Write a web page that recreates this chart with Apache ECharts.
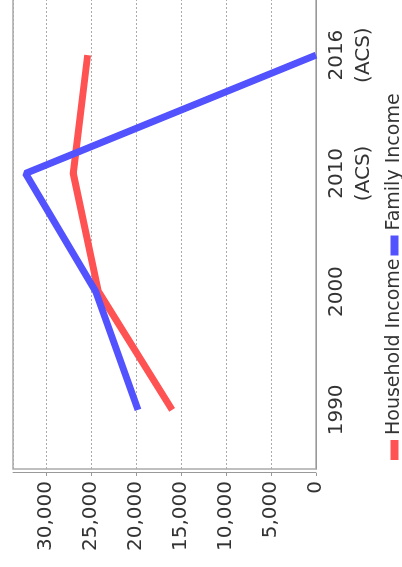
<!DOCTYPE html>
<html>
<head>
<meta charset="utf-8">
<script src="https://cdn.jsdelivr.net/npm/echarts@6/dist/echarts.min.js"></script>
<style>
  html, body { margin: 0; padding: 0; width: 402px; height: 567px; overflow: hidden; background: #fff; }
  /* chart is drawn landscape and turned a quarter turn to the left */
  #main { position: absolute; left: 0; top: 0; width: 580px; height: 402px;
          transform-origin: 0 0; transform: translate(0, 567px) rotate(-90deg); }
</style>
</head>
<body>
<div id="main"></div>
<script>
// data
var years = ['1990', '2000', '2010\n(ACS)', '2016\n(ACS)'];
var householdIncome = [16000, 24200, 27000, 25400];
var familyIncome = [19800, 24500, 32300, 0];
var seriesNames = ['Household Income', 'Family Income'];

var font = 'DejaVu Sans';
var myChart = echarts.init(document.getElementById('main'));
myChart.setOption({
    animation: false,
    color: ['#ff5252', '#5252ff'],
    grid: {
        left: 98, right: 9, top: 13, bottom: 86,
        show: true,
        borderColor: '#aaa',
        borderWidth: 1.5
    },
    legend: {
        data: seriesNames,
        left: 102,
        top: 380,
        itemWidth: 20,
        itemHeight: 8,
        itemGap: 3,
        icon: 'rect',
        textStyle: { fontFamily: font, fontSize: 19, color: '#333' }
    },
    xAxis: {
        type: 'category',
        data: years,
        offset: 3,
        axisLine: { lineStyle: { color: '#999' } },
        axisTick: { show: false },
        axisLabel: { fontFamily: font, fontSize: 20, color: '#333', margin: 4, lineHeight: 27 }
    },
    yAxis: {
        type: 'value',
        min: 0,
        max: 33700,
        interval: 5000,
        offset: 4,
        axisLine: { show: true, lineStyle: { color: '#999' } },
        axisTick: { show: true, length: 3, lineStyle: { color: '#999' } },
        axisLabel: { fontFamily: font, fontSize: 20, color: '#333', margin: 8, showMaxLabel: false },
        splitLine: { lineStyle: { color: '#aaa', type: [2, 2], width: 1 } }
    },
    series: [{
        name: seriesNames[0],
        type: 'line',
        data: householdIncome,
        showSymbol: false,
        lineStyle: { width: 7 }
    }, {
        name: seriesNames[1],
        type: 'line',
        data: familyIncome,
        showSymbol: false,
        lineStyle: { width: 7 }
    }]
});
</script>
</body>
</html>
